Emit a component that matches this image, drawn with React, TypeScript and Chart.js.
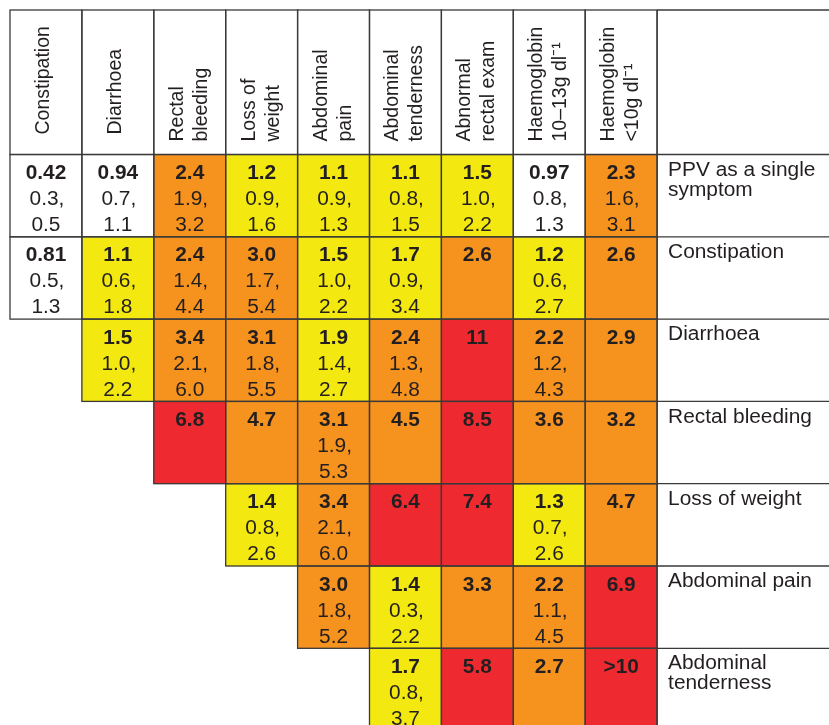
import React, { useEffect, useRef } from "react";
import { Chart, registerables } from "chart.js";

Chart.register(...registerables);

// ---- Column headers (each entry = lines of the rotated header) ----
const columnHeaders: string[][] = [
  ["Constipation"],
  ["Diarrhoea"],
  ["Rectal", "bleeding"],
  ["Loss of", "weight"],
  ["Abdominal", "pain"],
  ["Abdominal", "tenderness"],
  ["Abnormal", "rectal exam"],
  ["Haemoglobin", "10\u201313g dl\u207B\u00B9"],
  ["Haemoglobin", "<10g dl\u207B\u00B9"],
];

// ---- Row labels (right-hand column) ----
const rowLabels: string[][] = [
  ["PPV as a single", "symptom"],
  ["Constipation"],
  ["Diarrhoea"],
  ["Rectal bleeding"],
  ["Loss of weight"],
  ["Abdominal pain"],
  ["Abdominal", "tenderness"],
];

// first column index that holds a value in each row
const rowStartColumn: number[] = [0, 0, 1, 2, 3, 4, 5];

// ---- PPV values and 95% CI (lower, upper) per row ----
const ppvSingle = ["0.42", "0.94", "2.4", "1.2", "1.1", "1.1", "1.5", "0.97", "2.3"];
const ppvSingleLow = ["0.3", "0.7", "1.9", "0.9", "0.9", "0.8", "1.0", "0.8", "1.6"];
const ppvSingleHigh = ["0.5", "1.1", "3.2", "1.6", "1.3", "1.5", "2.2", "1.3", "3.1"];

const ppvConstipation = ["0.81", "1.1", "2.4", "3.0", "1.5", "1.7", "2.6", "1.2", "2.6"];
const ppvConstipationLow = ["0.5", "0.6", "1.4", "1.7", "1.0", "0.9", null, "0.6", null];
const ppvConstipationHigh = ["1.3", "1.8", "4.4", "5.4", "2.2", "3.4", null, "2.7", null];

const ppvDiarrhoea = ["1.5", "3.4", "3.1", "1.9", "2.4", "11", "2.2", "2.9"];
const ppvDiarrhoeaLow = ["1.0", "2.1", "1.8", "1.4", "1.3", null, "1.2", null];
const ppvDiarrhoeaHigh = ["2.2", "6.0", "5.5", "2.7", "4.8", null, "4.3", null];

const ppvRectalBleeding = ["6.8", "4.7", "3.1", "4.5", "8.5", "3.6", "3.2"];
const ppvRectalBleedingLow = [null, null, "1.9", null, null, null, null];
const ppvRectalBleedingHigh = [null, null, "5.3", null, null, null, null];

const ppvLossOfWeight = ["1.4", "3.4", "6.4", "7.4", "1.3", "4.7"];
const ppvLossOfWeightLow = ["0.8", "2.1", null, null, "0.7", null];
const ppvLossOfWeightHigh = ["2.6", "6.0", null, null, "2.6", null];

const ppvAbdominalPain = ["3.0", "1.4", "3.3", "2.2", "6.9"];
const ppvAbdominalPainLow = ["1.8", "0.3", null, "1.1", null];
const ppvAbdominalPainHigh = ["5.2", "2.2", null, "4.5", null];

const ppvAbdominalTenderness = ["1.7", "5.8", "2.7", ">10"];
const ppvAbdominalTendernessLow = ["0.8", null, null, null];
const ppvAbdominalTendernessHigh = ["3.7", null, null, null];

const rowValues = [ppvSingle, ppvConstipation, ppvDiarrhoea, ppvRectalBleeding, ppvLossOfWeight, ppvAbdominalPain, ppvAbdominalTenderness];
const rowLows = [ppvSingleLow, ppvConstipationLow, ppvDiarrhoeaLow, ppvRectalBleedingLow, ppvLossOfWeightLow, ppvAbdominalPainLow, ppvAbdominalTendernessLow];
const rowHighs = [ppvSingleHigh, ppvConstipationHigh, ppvDiarrhoeaHigh, ppvRectalBleedingHigh, ppvLossOfWeightHigh, ppvAbdominalPainHigh, ppvAbdominalTendernessHigh];

// ---- styles ----
const WHITE = "#ffffff";
const YELLOW = "#f3e80f";
const ORANGE = "#f6921e";
const RED = "#ee2a30";
const TEXT = "#231f20";
const LINE = "#3a3a3a";
const FONT = "'Liberation Sans', Arial, Helvetica, sans-serif";
const SX = 1.07; // horizontal stretch of the lettering
const HEADER_ROWS = 1.756; // header height in row units
const LABEL_COL = 9; // the row-label column starts after the 9 value columns

const colourFor = (s: string) => {
  const v = parseFloat(s.replace(">", ""));
  if (v < 1) return WHITE;
  if (v < 2) return YELLOW;
  if (v < 5) return ORANGE;
  return RED;
};

function drawText(ctx: CanvasRenderingContext2D, text: string, x: number, y: number, font: string, align: CanvasTextAlign, rotate = false) {
  ctx.save();
  ctx.translate(x, y);
  ctx.scale(SX, 1);
  if (rotate) ctx.rotate(-Math.PI / 2);
  ctx.font = font;
  ctx.fillStyle = TEXT;
  ctx.textAlign = align;
  ctx.textBaseline = "alphabetic";
  ctx.fillText(text, 0, 0);
  ctx.restore();
}

const tablePlugin = {
  id: "tableCells",
  afterDatasetsDraw(chart: any) {
    const ctx: CanvasRenderingContext2D = chart.ctx;
    const xs = chart.scales.x;
    const ys = chart.scales.y;
    ctx.save();
    chart.data.datasets.forEach((ds: any, di: number) => {
      const meta = chart.getDatasetMeta(di);
      meta.data.forEach((el: any, i: number) => {
        const p = el.getProps(["x", "y", "base", "width"], true);
        const left = p.x - p.width / 2;
        const top = Math.min(p.y, p.base);
        const bottom = Math.max(p.y, p.base);
        ctx.save();
        ctx.strokeStyle = LINE;
        ctx.lineWidth = 1.3;
        ctx.strokeRect(left, top, p.width, bottom - top);
        ctx.restore();
        if (ds.kind === "header") {
          const lines = columnHeaders[i];
          if (lines.length === 1) {
            drawText(ctx, lines[0], p.x + 3, bottom - 20, `19.5px ${FONT}`, "left", true);
          } else {
            drawText(ctx, lines[0], p.x - 7, bottom - 13, `19.5px ${FONT}`, "left", true);
            drawText(ctx, lines[1], p.x + 17, bottom - 13, `19.5px ${FONT}`, "left", true);
          }
        } else {
          const r = ds.row;
          const v = rowValues[r][i];
          const lo = rowLows[r][i];
          const hi = rowHighs[r][i];
          drawText(ctx, v, p.x, top + 24.5, `bold 19.5px ${FONT}`, "center");
          if (lo != null) drawText(ctx, lo + ",", p.x + 1, top + 50.5, `19.5px ${FONT}`, "center");
          if (hi != null) drawText(ctx, hi, p.x, top + 76.5, `19.5px ${FONT}`, "center");
        }
      });
    });
    // row-label column
    const xL = xs.getPixelForValue(LABEL_COL);
    const xR = chart.chartArea.right + 5;
    ctx.strokeStyle = LINE;
    ctx.lineWidth = 1.3;
    ctx.beginPath();
    const yTop = ys.getPixelForValue(-HEADER_ROWS);
    ctx.moveTo(xL, yTop);
    ctx.lineTo(xR, yTop);
    for (let r = 0; r <= rowLabels.length; r++) {
      const yy = ys.getPixelForValue(r);
      ctx.moveTo(xL, yy);
      ctx.lineTo(xR, yy);
    }
    ctx.moveTo(xL, yTop);
    ctx.lineTo(xL, ys.getPixelForValue(rowLabels.length));
    ctx.stroke();
    rowLabels.forEach((lines, r) => {
      const yy = ys.getPixelForValue(r);
      lines.forEach((t, k) => drawText(ctx, t, xL + 11, yy + 21.2 + k * 20, `19.5px ${FONT}`, "left"));
    });
    ctx.restore();
  },
};

export default function App() {
  const ref = useRef<HTMLCanvasElement | null>(null);
  useEffect(() => {
    if (!ref.current) return;
    const headerData = columnHeaders.map((_, c) => ({ x: c + 0.5, y: [-HEADER_ROWS, 0] }));
    const datasets: any[] = [
      {
        label: "header",
        kind: "header",
        data: headerData,
        backgroundColor: WHITE,
      },
    ];
    rowValues.forEach((vals, r) => {
      datasets.push({
        label: rowLabels[r].join(" "),
        row: r,
        data: vals.map((_, i) => ({ x: rowStartColumn[r] + i + 0.5, y: [r, r + 1] })),
        backgroundColor: vals.map(colourFor),
      });
    });
    const chart = new Chart(ref.current, {
      type: "bar",
      data: { datasets },
      options: {
        animation: false,
        responsive: true,
        maintainAspectRatio: false,
        events: [],
        layout: { padding: 0 },
        plugins: { legend: { display: false }, tooltip: { enabled: false } },
        datasets: { bar: { grouped: false, barPercentage: 1, categoryPercentage: 1, borderWidth: 0 } } as any,
        scales: {
          x: {
            type: "linear",
            display: false,
            offset: false,
            bounds: "data",
            min: -0.139,
            max: 11.391,
            grid: { offset: false },
            // ticks at the column boundaries 0..9
            afterBuildTicks: (axis: any) => {
              axis.ticks = Array.from({ length: columnHeaders.length + 1 }, (_, i) => ({ value: i }));
            },
          } as any,
          y: { type: "linear", display: false, reverse: true, bounds: "data", min: -1.8775, max: 6.932 },
        },
      },
      plugins: [tablePlugin],
    });
    return () => chart.destroy();
  }, []);
  return (
    <div style={{ position: "fixed", left: 0, top: 0, width: 829, height: 725, background: "#fff" }}>
      <canvas ref={ref} />
    </div>
  );
}
